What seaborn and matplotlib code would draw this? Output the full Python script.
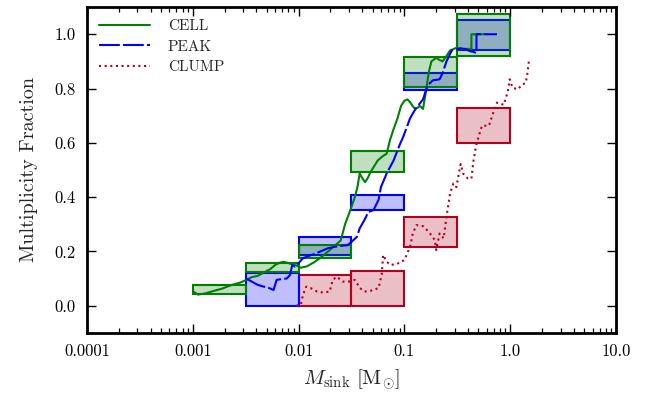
import numpy as np
import pandas as pd
import matplotlib
matplotlib.use("Agg")
import matplotlib.pyplot as plt
import matplotlib.ticker as mticker
import seaborn as sns

# ---------------- data ----------------
bin_edges = [10**-3, 10**-2.5, 10**-2, 10**-1.5, 10**-1, 10**-0.5, 10**0]

# boxes: (bin index, low, high)
cell_bin = [0, 1, 2, 3, 4, 5]
cell_lo = [0.044, 0.123, 0.177, 0.492, 0.806, 0.919]
cell_hi = [0.077, 0.159, 0.223, 0.569, 0.916, 1.076]

peak_bin = [1, 2, 3, 4, 5]
peak_lo = [0.0, 0.187, 0.352, 0.795, 0.941]
peak_hi = [0.12, 0.252, 0.407, 0.858, 1.051]

clump_bin = [2, 3, 4, 5]
clump_lo = [0.0, 0.0, 0.217, 0.60]
clump_hi = [0.114, 0.129, 0.325, 0.73]

# curves
cell_x = [0.00101, 0.00112, 0.0013, 0.0015, 0.0017, 0.0019, 0.0021, 0.0024, 0.0028,
          0.0032, 0.0036, 0.0041, 0.0047, 0.0054, 0.0060, 0.0066, 0.0072, 0.0080,
          0.0088, 0.0096, 0.0105, 0.0120, 0.0140, 0.0165, 0.0197, 0.0225, 0.0250,
          0.0275, 0.0300, 0.0316, 0.0340, 0.0360, 0.0378, 0.0400, 0.0425, 0.0450,
          0.0475, 0.0520, 0.0560, 0.0620, 0.0680, 0.0730, 0.0790, 0.0860, 0.0930,
          0.1000, 0.1070, 0.1130, 0.1200, 0.1260, 0.1340, 0.1400, 0.1500, 0.1600,
          0.1700, 0.1800, 0.2000, 0.2150, 0.2300, 0.2500, 0.2700, 0.2900, 0.3100,
          0.3500, 0.3900, 0.4300, 0.4301, 0.4700, 0.5200, 0.5600]
cell_y = [0.052, 0.041, 0.045, 0.052, 0.058, 0.063, 0.070, 0.078, 0.085,
          0.095, 0.105, 0.110, 0.122, 0.135, 0.150, 0.158, 0.162, 0.157,
          0.152, 0.148, 0.140, 0.145, 0.160, 0.180, 0.205, 0.225, 0.240,
          0.300, 0.340, 0.364, 0.400, 0.437, 0.487, 0.470, 0.455, 0.470,
          0.490, 0.515, 0.535, 0.550, 0.560, 0.610, 0.650, 0.690, 0.736,
          0.755, 0.760, 0.750, 0.735, 0.725, 0.730, 0.736, 0.725, 0.790,
          0.860, 0.900, 0.913, 0.905, 0.900, 0.920, 0.940, 0.945, 0.950,
          0.946, 0.946, 0.946, 1.000, 1.000, 1.000, 1.000]

peak_x = [0.00320, 0.0036, 0.0041, 0.0046, 0.0052, 0.0058, 0.0062, 0.0066, 0.0072,
          0.0077, 0.0083, 0.0087, 0.0092, 0.0100, 0.0110, 0.0122, 0.0140, 0.0161,
          0.0190, 0.0220, 0.0246, 0.0270, 0.0290, 0.0316, 0.0356, 0.0378, 0.0425,
          0.0455, 0.0510, 0.0570, 0.0600, 0.0680, 0.0790, 0.0910, 0.0970, 0.1060,
          0.1130, 0.1230, 0.1300, 0.1400, 0.1500, 0.1650, 0.1850, 0.2000, 0.2150,
          0.2300, 0.2500, 0.2800, 0.3100, 0.3400, 0.3800, 0.4200, 0.4500, 0.4800,
          0.4801, 0.5500, 0.6500, 0.7500]
peak_y = [0.100, 0.089, 0.077, 0.071, 0.066, 0.058, 0.095, 0.097, 0.099,
          0.100, 0.113, 0.150, 0.144, 0.157, 0.175, 0.182, 0.190, 0.200,
          0.212, 0.217, 0.220, 0.222, 0.223, 0.235, 0.254, 0.285, 0.320,
          0.345, 0.352, 0.390, 0.437, 0.487, 0.535, 0.596, 0.620, 0.660,
          0.690, 0.715, 0.730, 0.745, 0.760, 0.810, 0.830, 0.832, 0.834,
          0.858, 0.900, 0.940, 0.944, 0.948, 0.945, 0.937, 0.935, 0.930,
          1.000, 1.000, 1.000, 1.000]

clump_x = [0.0095, 0.0105, 0.0110, 0.0118, 0.0130, 0.0150, 0.0170, 0.0197, 0.0210,
           0.0230, 0.0260, 0.0300, 0.0340, 0.0380, 0.0420, 0.0490, 0.0570, 0.0610,
           0.0630, 0.0680, 0.0740, 0.0850, 0.1000, 0.1130, 0.1200, 0.1300, 0.1500,
           0.1700, 0.1940, 0.2000, 0.2150, 0.2350, 0.2500, 0.2700, 0.2900, 0.3100,
           0.3400, 0.3600, 0.4000, 0.4300, 0.4500, 0.4800, 0.5400, 0.6300, 0.6900,
           0.7500, 0.8700, 0.9500, 0.9900, 1.0500, 1.1800, 1.3000, 1.4000, 1.4500,
           1.5000, 1.5600]
clump_y = [0.000, 0.003, 0.040, 0.070, 0.065, 0.052, 0.049, 0.052, 0.095,
           0.107, 0.089, 0.089, 0.095, 0.065, 0.052, 0.056, 0.065, 0.114,
           0.187, 0.162, 0.150, 0.154, 0.168, 0.217, 0.266, 0.297, 0.293,
           0.272, 0.242, 0.205, 0.266, 0.248, 0.327, 0.413, 0.450, 0.437,
           0.522, 0.486, 0.468, 0.468, 0.535, 0.596, 0.663, 0.663, 0.710,
           0.748, 0.740, 0.790, 0.834, 0.803, 0.797, 0.815, 0.820, 0.852,
           0.900, 0.900]

labels = ["CELL", "PEAK", "CLUMP"]
x_ticks = [1e-4, 1e-3, 1e-2, 1e-1, 1.0, 10.0]
x_ticklabels = ["0.0001", "0.001", "0.01", "0.1", "1.0", "10.0"]
y_ticks = [0.0, 0.2, 0.4, 0.6, 0.8, 1.0]
y_ticklabels = ["0.0", "0.2", "0.4", "0.6", "0.8", "1.0"]

# ---------------- style ----------------
sns.set_theme(style="ticks")
plt.rcParams["font.family"] = ["cmr10", "DejaVu Serif"]
plt.rcParams["mathtext.fontset"] = "cm"
plt.rcParams["axes.formatter.use_mathtext"] = True
plt.rcParams["axes.unicode_minus"] = False
plt.rcParams["axes.axisbelow"] = False

green = "#008000"
blue = "#0000ff"
red = "#b2001e"

fig = plt.figure(figsize=(6.52, 3.93), dpi=100)
ax = fig.add_axes([0.1334, 0.153, 0.8114, 0.829])
ax.set_xscale("log")


def draw_boxes(bins, lo, hi, color, z):
    left = [bin_edges[b] for b in bins]
    width = [bin_edges[b + 1] - bin_edges[b] for b in bins]
    height = [h - l for l, h in zip(lo, hi)]
    ax.bar(left, height, width=width, bottom=lo, align="edge",
           color=color, alpha=0.25, linewidth=0, zorder=z)
    ax.bar(left, height, width=width, bottom=lo, align="edge",
           facecolor="none", edgecolor=color, linewidth=1.5, zorder=z + 0.1)


draw_boxes(clump_bin, clump_lo, clump_hi, red, 1)
draw_boxes(peak_bin, peak_lo, peak_hi, blue, 1.3)
draw_boxes(cell_bin, cell_lo, cell_hi, green, 1.6)

df_cell = pd.DataFrame({"x": cell_x, "y": cell_y})
df_peak = pd.DataFrame({"x": peak_x, "y": peak_y})
df_clump = pd.DataFrame({"x": clump_x, "y": clump_y})

sns.lineplot(data=df_cell, x="x", y="y", ax=ax, color=green, lw=1.5,
             estimator=None, sort=False, label=labels[0], zorder=2)
sns.lineplot(data=df_peak, x="x", y="y", ax=ax, color=blue, lw=1.5,
             estimator=None, sort=False, label=labels[1], zorder=2,
             linestyle=(0, (10, 1.5)))
sns.lineplot(data=df_clump, x="x", y="y", ax=ax, color=red, lw=1.5,
             estimator=None, sort=False, label=labels[2], zorder=2,
             linestyle=(0, (1, 1.7)))

ax.set_xlim(1e-4, 10)
ax.set_ylim(-0.1, 1.1)
ax.set_xticks(x_ticks)
ax.set_xticklabels(x_ticklabels)
ax.xaxis.set_minor_locator(mticker.LogLocator(base=10, subs=np.arange(2, 10), numticks=20))
ax.xaxis.set_minor_formatter(mticker.NullFormatter())
ax.set_yticks(y_ticks)
ax.set_yticklabels(y_ticklabels)
ax.yaxis.set_minor_locator(mticker.NullLocator())

ax.set_xlabel(r"$M_{\rm sink}\ [\rm M_{\odot}]$", fontsize=15, labelpad=6)
ax.set_ylabel("Multiplicity Fraction", fontsize=14.5, labelpad=12)

leg = ax.legend(loc="upper left", frameon=False, fontsize=11,
                handlelength=3.3, handletextpad=1.2, labelspacing=0.45,
                borderaxespad=0.4)

ax.set_axisbelow(False)
ax.xaxis.set_zorder(2.5)
ax.yaxis.set_zorder(2.5)
ax.tick_params(which="both", direction="in", top=True, right=True,
               bottom=True, left=True, labelsize=12, colors="black")
ax.tick_params(which="major", length=6.5, width=1.0, pad=8)
ax.tick_params(which="minor", length=3.5, width=0.9)
for s in ax.spines.values():
    s.set_linewidth(2.0)
    s.set_color("black")
    s.set_zorder(3)

fig.savefig("out.png", dpi=100, facecolor="white")
